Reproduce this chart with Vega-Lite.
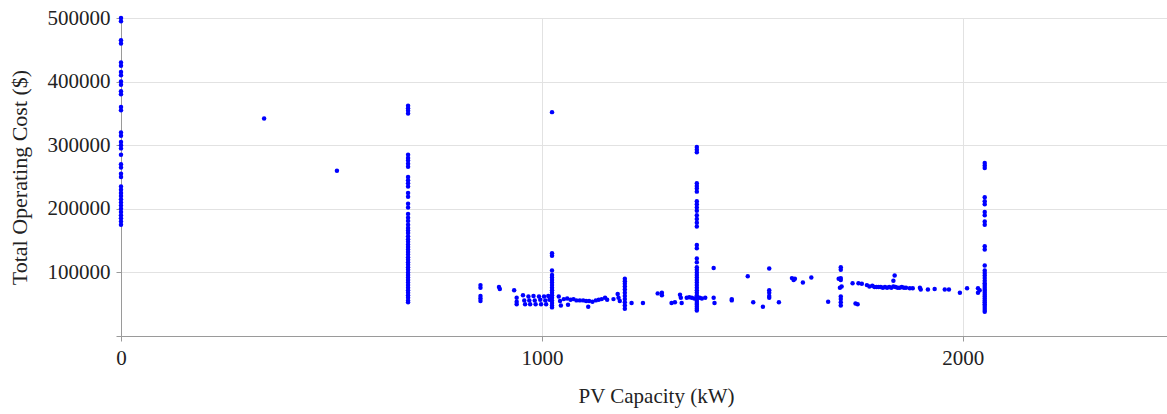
{
  "$schema": "https://vega.github.io/schema/vega-lite/v6.json",
  "width": 1046,
  "height": 318,
  "autosize": "none",
  "padding": {"left": 121, "top": 18, "right": 0, "bottom": 78},
  "background": "white",
  "config": {"view": {"stroke": null}},
  "datasets": {
    "pts": [
      {"pv": 0, "cost": 500000}, {"pv": 0, "cost": 495000}, {"pv": 0, "cost": 465000}, {"pv": 0, "cost": 460000},
      {"pv": 0, "cost": 430000}, {"pv": 0, "cost": 425000}, {"pv": 0, "cost": 415000}, {"pv": 0, "cost": 410000},
      {"pv": 0, "cost": 400000}, {"pv": 0, "cost": 395000}, {"pv": 0, "cost": 385000}, {"pv": 0, "cost": 380000},
      {"pv": 0, "cost": 360000}, {"pv": 0, "cost": 355000}, {"pv": 0, "cost": 320000}, {"pv": 0, "cost": 315000},
      {"pv": 0, "cost": 305000}, {"pv": 0, "cost": 300000}, {"pv": 0, "cost": 295000}, {"pv": 0, "cost": 285000},
      {"pv": 0, "cost": 270000}, {"pv": 0, "cost": 265000}, {"pv": 0, "cost": 255000}, {"pv": 0, "cost": 250000},
      {"pv": 0, "cost": 235000}, {"pv": 0, "cost": 230000}, {"pv": 0, "cost": 225000}, {"pv": 0, "cost": 220000},
      {"pv": 0, "cost": 215000}, {"pv": 0, "cost": 210000}, {"pv": 0, "cost": 205000}, {"pv": 0, "cost": 200000},
      {"pv": 0, "cost": 195000}, {"pv": 0, "cost": 190000}, {"pv": 0, "cost": 185000}, {"pv": 0, "cost": 180000},
      {"pv": 0, "cost": 175000},
      {"pv": 340, "cost": 342000}, {"pv": 513, "cost": 260000}, {"pv": 1024, "cost": 352000},
      {"pv": 682, "cost": 362000}, {"pv": 682, "cost": 358000}, {"pv": 682, "cost": 354000}, {"pv": 682, "cost": 350000},
      {"pv": 682, "cost": 285000}, {"pv": 682, "cost": 280000}, {"pv": 682, "cost": 276000}, {"pv": 682, "cost": 271000},
      {"pv": 682, "cost": 266000}, {"pv": 682, "cost": 250000}, {"pv": 682, "cost": 245000}, {"pv": 682, "cost": 240000},
      {"pv": 682, "cost": 235000}, {"pv": 682, "cost": 225000}, {"pv": 682, "cost": 219000}, {"pv": 682, "cost": 208000},
      {"pv": 682, "cost": 202000}, {"pv": 682, "cost": 192000}, {"pv": 682, "cost": 186000}, {"pv": 682, "cost": 181000},
      {"pv": 682, "cost": 175000}, {"pv": 682, "cost": 170000}, {"pv": 682, "cost": 166000}, {"pv": 682, "cost": 162000},
      {"pv": 682, "cost": 157000}, {"pv": 682, "cost": 152000}, {"pv": 682, "cost": 148000}, {"pv": 682, "cost": 144000},
      {"pv": 682, "cost": 140000}, {"pv": 682, "cost": 136000}, {"pv": 682, "cost": 132000}, {"pv": 682, "cost": 128000},
      {"pv": 682, "cost": 124000}, {"pv": 682, "cost": 120000}, {"pv": 682, "cost": 116000}, {"pv": 682, "cost": 112000},
      {"pv": 682, "cost": 108000}, {"pv": 682, "cost": 104000}, {"pv": 682, "cost": 100000}, {"pv": 682, "cost": 96000},
      {"pv": 682, "cost": 92000}, {"pv": 682, "cost": 88000}, {"pv": 682, "cost": 84000}, {"pv": 682, "cost": 80000},
      {"pv": 682, "cost": 76000}, {"pv": 682, "cost": 72000}, {"pv": 682, "cost": 68000}, {"pv": 682, "cost": 64000},
      {"pv": 682, "cost": 60000}, {"pv": 682, "cost": 56000}, {"pv": 682, "cost": 53000},
      {"pv": 1368, "cost": 297000}, {"pv": 1368, "cost": 293000}, {"pv": 1368, "cost": 289000}, {"pv": 1368, "cost": 240000},
      {"pv": 1368, "cost": 236000}, {"pv": 1368, "cost": 232000}, {"pv": 1368, "cost": 227000}, {"pv": 1368, "cost": 212000},
      {"pv": 1368, "cost": 207000}, {"pv": 1368, "cost": 202000}, {"pv": 1368, "cost": 197000}, {"pv": 1368, "cost": 190000},
      {"pv": 1368, "cost": 184000}, {"pv": 1368, "cost": 178000}, {"pv": 1368, "cost": 172000}, {"pv": 1368, "cost": 143000},
      {"pv": 1368, "cost": 138000}, {"pv": 1368, "cost": 122000}, {"pv": 1368, "cost": 116000}, {"pv": 1368, "cost": 108000},
      {"pv": 1368, "cost": 104000}, {"pv": 1368, "cost": 100000}, {"pv": 1368, "cost": 96000}, {"pv": 1368, "cost": 92000},
      {"pv": 1368, "cost": 88000}, {"pv": 1368, "cost": 84000}, {"pv": 1368, "cost": 80000}, {"pv": 1368, "cost": 76000},
      {"pv": 1368, "cost": 72000}, {"pv": 1368, "cost": 68000}, {"pv": 1368, "cost": 64000}, {"pv": 1368, "cost": 61000},
      {"pv": 1368, "cost": 58000}, {"pv": 1368, "cost": 55000}, {"pv": 1368, "cost": 52000}, {"pv": 1368, "cost": 49000},
      {"pv": 1368, "cost": 46000}, {"pv": 1368, "cost": 43000}, {"pv": 1368, "cost": 40000},
      {"pv": 1344, "cost": 60000}, {"pv": 1350, "cost": 61000}, {"pv": 1356, "cost": 60000}, {"pv": 1362, "cost": 59000},
      {"pv": 1375, "cost": 60000}, {"pv": 1380, "cost": 59000}, {"pv": 1388, "cost": 60000},
      {"pv": 2052, "cost": 272000}, {"pv": 2052, "cost": 268000}, {"pv": 2052, "cost": 264000}, {"pv": 2052, "cost": 218000},
      {"pv": 2052, "cost": 212000}, {"pv": 2052, "cost": 207000}, {"pv": 2052, "cost": 195000}, {"pv": 2052, "cost": 190000},
      {"pv": 2052, "cost": 180000}, {"pv": 2052, "cost": 175000}, {"pv": 2052, "cost": 141000}, {"pv": 2052, "cost": 136000},
      {"pv": 2052, "cost": 111000}, {"pv": 2052, "cost": 103000}, {"pv": 2052, "cost": 99000}, {"pv": 2052, "cost": 95000},
      {"pv": 2052, "cost": 91000}, {"pv": 2052, "cost": 87000}, {"pv": 2052, "cost": 83000}, {"pv": 2052, "cost": 80000},
      {"pv": 2052, "cost": 77000}, {"pv": 2052, "cost": 74000}, {"pv": 2052, "cost": 71000}, {"pv": 2052, "cost": 68000},
      {"pv": 2052, "cost": 65000}, {"pv": 2052, "cost": 62000}, {"pv": 2052, "cost": 59000}, {"pv": 2052, "cost": 56000},
      {"pv": 2052, "cost": 53000}, {"pv": 2052, "cost": 50000}, {"pv": 2052, "cost": 47000}, {"pv": 2052, "cost": 44000},
      {"pv": 2052, "cost": 41000}, {"pv": 2052, "cost": 38000},
      {"pv": 2036, "cost": 75000}, {"pv": 2036, "cost": 68000}, {"pv": 2040, "cost": 72000},
      {"pv": 1024, "cost": 130000}, {"pv": 1024, "cost": 126000}, {"pv": 1024, "cost": 103000}, {"pv": 1024, "cost": 96000},
      {"pv": 1024, "cost": 92000}, {"pv": 1024, "cost": 88000}, {"pv": 1024, "cost": 84000}, {"pv": 1024, "cost": 80000},
      {"pv": 1024, "cost": 76000}, {"pv": 1024, "cost": 72000}, {"pv": 1024, "cost": 68000}, {"pv": 1024, "cost": 64000},
      {"pv": 1024, "cost": 60000}, {"pv": 1024, "cost": 56000}, {"pv": 1024, "cost": 52000}, {"pv": 1024, "cost": 48000},
      {"pv": 1024, "cost": 45000},
      {"pv": 1197, "cost": 90000}, {"pv": 1197, "cost": 86000}, {"pv": 1197, "cost": 82000}, {"pv": 1197, "cost": 78000},
      {"pv": 1197, "cost": 73000}, {"pv": 1197, "cost": 68000}, {"pv": 1197, "cost": 63000}, {"pv": 1197, "cost": 58000},
      {"pv": 1197, "cost": 53000}, {"pv": 1197, "cost": 48000}, {"pv": 1197, "cost": 43000},
      {"pv": 854, "cost": 80000}, {"pv": 854, "cost": 76000}, {"pv": 854, "cost": 63000}, {"pv": 854, "cost": 59000},
      {"pv": 854, "cost": 55000},
      {"pv": 898, "cost": 77000}, {"pv": 900, "cost": 74000}, {"pv": 934, "cost": 72000}, {"pv": 940, "cost": 60000},
      {"pv": 940, "cost": 54000}, {"pv": 940, "cost": 50000}, {"pv": 955, "cost": 64000}, {"pv": 958, "cost": 56000},
      {"pv": 960, "cost": 50000}, {"pv": 968, "cost": 62000}, {"pv": 970, "cost": 56000}, {"pv": 972, "cost": 50000},
      {"pv": 980, "cost": 63000}, {"pv": 983, "cost": 56000}, {"pv": 985, "cost": 50000}, {"pv": 993, "cost": 62000},
      {"pv": 996, "cost": 57000}, {"pv": 998, "cost": 50000}, {"pv": 1005, "cost": 62000}, {"pv": 1008, "cost": 56000},
      {"pv": 1010, "cost": 50000}, {"pv": 1015, "cost": 63000}, {"pv": 1018, "cost": 57000},
      {"pv": 1040, "cost": 62000}, {"pv": 1043, "cost": 55000}, {"pv": 1045, "cost": 48000}, {"pv": 1052, "cost": 58000},
      {"pv": 1060, "cost": 59000}, {"pv": 1062, "cost": 49000}, {"pv": 1068, "cost": 57000}, {"pv": 1075, "cost": 58000},
      {"pv": 1082, "cost": 56000}, {"pv": 1090, "cost": 56000}, {"pv": 1098, "cost": 56000}, {"pv": 1105, "cost": 55000},
      {"pv": 1110, "cost": 46000}, {"pv": 1112, "cost": 55000}, {"pv": 1120, "cost": 54000}, {"pv": 1128, "cost": 56000},
      {"pv": 1135, "cost": 57000}, {"pv": 1142, "cost": 58000}, {"pv": 1150, "cost": 60000}, {"pv": 1155, "cost": 57000},
      {"pv": 1170, "cost": 58000}, {"pv": 1180, "cost": 66000}, {"pv": 1182, "cost": 60000}, {"pv": 1185, "cost": 55000},
      {"pv": 1213, "cost": 52000}, {"pv": 1240, "cost": 52000}, {"pv": 1275, "cost": 67000}, {"pv": 1285, "cost": 68000},
      {"pv": 1285, "cost": 64000}, {"pv": 1308, "cost": 52000}, {"pv": 1316, "cost": 53000}, {"pv": 1328, "cost": 65000},
      {"pv": 1330, "cost": 60000}, {"pv": 1332, "cost": 52000},
      {"pv": 1408, "cost": 107000}, {"pv": 1408, "cost": 60000}, {"pv": 1410, "cost": 52000}, {"pv": 1451, "cost": 58000},
      {"pv": 1451, "cost": 56000}, {"pv": 1489, "cost": 94000}, {"pv": 1502, "cost": 53000}, {"pv": 1525, "cost": 46000},
      {"pv": 1540, "cost": 106000}, {"pv": 1540, "cost": 72000}, {"pv": 1540, "cost": 68000}, {"pv": 1540, "cost": 63000},
      {"pv": 1540, "cost": 60000}, {"pv": 1563, "cost": 53000}, {"pv": 1594, "cost": 91000}, {"pv": 1598, "cost": 88000},
      {"pv": 1601, "cost": 90000}, {"pv": 1620, "cost": 84000}, {"pv": 1640, "cost": 92000}, {"pv": 1680, "cost": 54000},
      {"pv": 1710, "cost": 108000}, {"pv": 1710, "cost": 104000}, {"pv": 1710, "cost": 91000}, {"pv": 1710, "cost": 88000},
      {"pv": 1712, "cost": 78000}, {"pv": 1708, "cost": 76000}, {"pv": 1710, "cost": 62000}, {"pv": 1710, "cost": 58000},
      {"pv": 1710, "cost": 53000}, {"pv": 1710, "cost": 48000}, {"pv": 1705, "cost": 90000},
      {"pv": 1738, "cost": 83000}, {"pv": 1745, "cost": 51000}, {"pv": 1750, "cost": 50000}, {"pv": 1752, "cost": 83000},
      {"pv": 1760, "cost": 82000},
      {"pv": 1772, "cost": 80000}, {"pv": 1778, "cost": 78000}, {"pv": 1785, "cost": 79000}, {"pv": 1790, "cost": 77000},
      {"pv": 1795, "cost": 77000}, {"pv": 1800, "cost": 77000}, {"pv": 1805, "cost": 77000}, {"pv": 1810, "cost": 76000},
      {"pv": 1815, "cost": 77000}, {"pv": 1820, "cost": 76000}, {"pv": 1825, "cost": 77000}, {"pv": 1830, "cost": 76000},
      {"pv": 1835, "cost": 78000}, {"pv": 1838, "cost": 95000}, {"pv": 1835, "cost": 87000}, {"pv": 1840, "cost": 77000},
      {"pv": 1845, "cost": 76000}, {"pv": 1850, "cost": 76000}, {"pv": 1855, "cost": 77000}, {"pv": 1860, "cost": 76000},
      {"pv": 1865, "cost": 76000}, {"pv": 1874, "cost": 75000}, {"pv": 1881, "cost": 75000}, {"pv": 1898, "cost": 76000},
      {"pv": 1900, "cost": 73000}, {"pv": 1917, "cost": 73000}, {"pv": 1933, "cost": 74000}, {"pv": 1957, "cost": 73000},
      {"pv": 1967, "cost": 73000}, {"pv": 1993, "cost": 68000}, {"pv": 2010, "cost": 75000}
    ]
  },
  "data": {"name": "pts"},
  "mark": {"type": "circle", "size": 20, "color": "#0000ff", "opacity": 1},
  "encoding": {
    "x": {
      "field": "pv",
      "type": "quantitative",
      "scale": {"domain": [0, 2485], "nice": false, "zero": false},
      "axis": {
        "title": "PV Capacity (kW)",
        "values": [0, 1000, 2000],
        "format": "d",
        "grid": true,
        "gridColor": "#e2e2e2",
        "domainColor": "#9a9a9a",
        "tickColor": "#9a9a9a",
        "tickSize": 5,
        "labelFont": "Liberation Serif",
        "labelFontSize": 21,
        "labelColor": "#222222",
        "labelPadding": 6,
        "labelFlush": false,
        "titleFont": "Liberation Serif",
        "titleFontSize": 21,
        "titleFontWeight": "normal",
        "titleColor": "#222222",
        "titlePadding": 17,
        "titleX": 535
      }
    },
    "y": {
      "field": "cost",
      "type": "quantitative",
      "scale": {"domain": [0, 500000], "nice": false},
      "axis": {
        "title": "Total Operating Cost ($)",
        "values": [0, 100000, 200000, 300000, 400000, 500000],
        "format": "d",
        "labelExpr": "datum.value == 0 ? '' : datum.label",
        "grid": true,
        "gridColor": "#e2e2e2",
        "domainColor": "#9a9a9a",
        "tickColor": "#9a9a9a",
        "tickSize": 5,
        "labelFont": "Liberation Serif",
        "labelFontSize": 21,
        "labelColor": "#222222",
        "labelPadding": 6,
        "labelFlush": false,
        "titleFont": "Liberation Serif",
        "titleFontSize": 22,
        "titleFontWeight": "normal",
        "titleColor": "#222222",
        "titlePadding": 16
      }
    }
  }
}
